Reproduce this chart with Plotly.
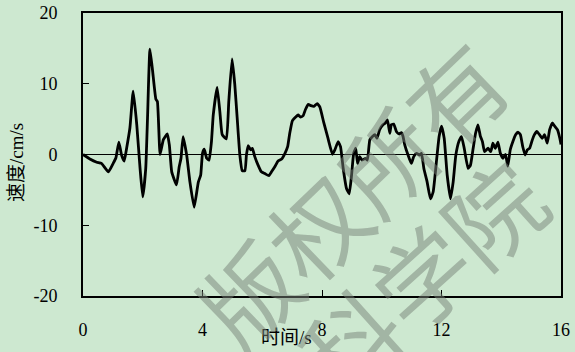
import plotly.graph_objects as go

# Velocity record: time (s) and velocity (cm/s)
time_s = [
    0.00, 0.23, 0.46, 0.62, 0.85, 1.01, 1.10, 1.20, 1.29, 1.38, 1.46, 1.57, 1.68, 1.80,
    1.91, 2.00, 2.10, 2.16, 2.24, 2.33, 2.44, 2.49, 2.58, 2.69, 2.82, 2.89, 2.97, 3.13,
    3.22, 3.28, 3.35, 3.47, 3.58, 3.72, 3.86, 3.94, 4.00, 4.06, 4.14, 4.22, 4.30, 4.36,
    4.49, 4.58, 4.66, 4.80, 4.88, 4.99, 5.08, 5.16, 5.25, 5.33, 5.42, 5.47, 5.53, 5.61,
    5.67, 5.75, 5.86, 5.97, 6.09, 6.22, 6.31, 6.42, 6.53, 6.65, 6.76, 6.85, 6.92, 7.01,
    7.12, 7.20, 7.28, 7.37, 7.45, 7.54, 7.63, 7.73, 7.84, 7.93, 8.06, 8.20, 8.35, 8.43,
    8.54, 8.62, 8.71, 8.82, 8.91, 8.99, 9.06, 9.13, 9.19, 9.26, 9.34, 9.46, 9.52, 9.60,
    9.69, 9.77, 9.84, 9.93, 10.04, 10.12, 10.19, 10.27, 10.32, 10.40, 10.49, 10.58, 10.66,
    10.71, 10.77, 10.88, 10.99, 11.07, 11.16, 11.27, 11.33, 11.41, 11.52, 11.63, 11.72,
    11.83, 11.92, 12.00, 12.09, 12.19, 12.30, 12.39, 12.48, 12.59, 12.67, 12.76, 12.89,
    12.97, 13.06, 13.14, 13.22, 13.30, 13.37, 13.44, 13.56, 13.65, 13.72, 13.80, 13.89,
    13.97, 14.06, 14.14, 14.22, 14.30, 14.39, 14.48, 14.56, 14.64, 14.72, 14.80, 14.87,
    14.95, 15.04, 15.11, 15.19, 15.28, 15.37, 15.45, 15.54, 15.62, 15.71, 15.79, 15.88,
    15.96, 16.00,
]
velocity = [
    0.0, -0.64, -1.1, -1.26, -2.45, -1.26, -0.5, 1.74, -0.07, -0.93, 0.89, 3.74, 8.97, 4.2,
    -1.97, -6.0, -1.97, 5.2, 14.9, 11.8, 7.8, 7.5, 0.0, 2.1, 2.9, 1.36, -2.45, -4.3,
    -1.74, -0.54, 2.54, -0.07, -3.9, -7.45, -3.9, -2.9, 0.17, 0.74, -0.54, -0.79, 1.83, 5.6,
    9.5, 6.1, 2.8, 2.2, 7.5, 13.5, 9.9, 5.2, -0.07, -2.3, -2.3, -0.07, 1.26, 0.64,
    0.88, -0.3, -1.5, -2.45, -2.7, -3.0, -2.45, -1.74, -0.93, -0.64, 0.17, 1.1, 3.0, 4.8,
    5.3, 5.6, 5.3, 5.5, 6.4, 7.1, 6.9, 6.8, 7.2, 6.7, 4.5, 2.3, 0.03, 0.64,
    1.83, 1.1, -1.97, -4.8, -5.55, -2.9, 0.17, 0.88, -1.26, -0.3, -0.79, -0.54, -0.79, 2.07,
    2.54, 2.8, 2.3, 3.5, 4.2, 4.45, 4.9, 3.0, 4.2, 4.3, 3.26, 2.9, 3.1,
    2.6, 1.36, -0.07, -1.26, -0.3, 0.17, -0.07, 0.17, -1.97, -3.9, -6.26, -5.3,
    -1.0, 2.54, 4.0, 2.3, -2.9, -6.26, -3.9, -0.07, 1.93, 2.54, 0.88, -1.97,
    -1.5, 0.88, 3.0, 4.2, 2.6, 1.83, 0.4, 0.88, 0.4, 1.6, 0.88, 1.74,
    0.17, -0.54, 0.03, -1.64, 0.64, 1.83, 2.8, 3.17, 2.8, 1.1, -0.07, 0.64,
    0.88, 2.07, 2.8, 3.26, 2.8, 2.3, 2.8, 1.6, 3.5, 4.45, 4.0, 3.5,
    2.3, 1.4,
]

x_ticks = [0, 4, 8, 12, 16]
y_ticks = [-20, -10, 0, 10, 20]

BG = "#cde8d0"
SERIF = "Times New Roman, Liberation Serif, Noto Sans CJK SC, serif"

fig = go.Figure()
fig.add_trace(go.Scatter(
    x=time_s, y=velocity, mode="lines",
    line=dict(color="black", width=2.8, shape="spline", smoothing=0.4),
    showlegend=False, hoverinfo="skip",
))

fig.update_layout(
    width=575, height=352,
    margin=dict(l=83, r=14, t=13, b=56),
    paper_bgcolor=BG, plot_bgcolor=BG,
    font=dict(family=SERIF, color="black", size=18),
)

fig.update_xaxes(
    range=[0, 16], tickvals=x_ticks, ticktext=[str(v) for v in x_ticks],
    showgrid=False, zeroline=False, automargin=False,
    showline=True, linecolor="black", linewidth=2, mirror=True,
    ticks="inside", ticklen=6, tickwidth=1, tickcolor="black",
    ticklabelstandoff=16, tickfont=dict(size=18, family=SERIF),
)
fig.update_yaxes(
    range=[-20, 20], tickvals=y_ticks, ticktext=[str(v) for v in y_ticks],
    showgrid=False, zeroline=True, zerolinecolor="black", zerolinewidth=1.2,
    automargin=False,
    showline=True, linecolor="black", linewidth=2, mirror=True,
    ticks="inside", ticklen=6, tickwidth=1, tickcolor="black",
    ticklabelstandoff=20, tickfont=dict(size=18, family=SERIF),
)

# Axis titles
fig.add_annotation(
    text="速度/cm/s", xref="paper", yref="paper", x=-0.138, y=0.47,
    xanchor="center", yanchor="middle", textangle=-90, showarrow=False,
    font=dict(size=19, family=SERIF, color="black"),
)
fig.add_annotation(
    text="时间/s", xref="paper", yref="paper", x=0.425, y=-0.148,
    xanchor="center", yanchor="middle", showarrow=False,
    font=dict(size=19, family=SERIF, color="black"),
)

# Copyright watermark
WM = dict(size=96, family="Noto Sans CJK SC", color="rgba(120,130,120,0.5)")
fig.add_annotation(
    text="版权所有", xref="paper", yref="paper",
    x=(350 - 83) / 478, y=(296 - 192) / 283,
    xanchor="center", yanchor="middle", textangle=-44, showarrow=False, font=WM,
)
fig.add_annotation(
    text="科学院", xref="paper", yref="paper",
    x=(420 - 83) / 478, y=(296 - 275) / 283,
    xanchor="center", yanchor="middle", textangle=-42, showarrow=False, font=WM,
)

fig.write_html("out.html")
